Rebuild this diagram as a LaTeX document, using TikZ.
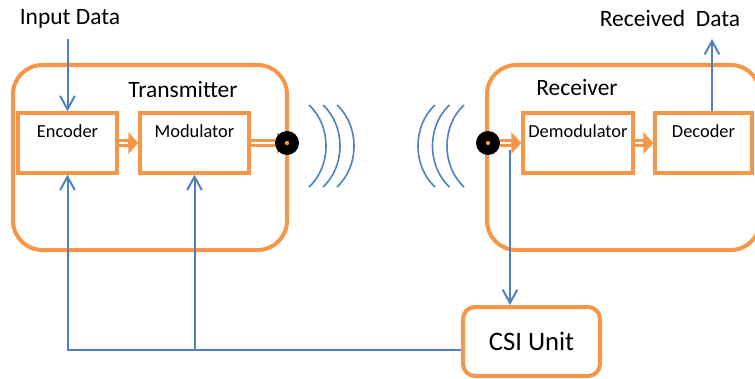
\documentclass[tikz,border=0pt]{standalone}
\usepackage{fontspec}
\setmainfont{Carlito}
\usepackage{tikz}
\usetikzlibrary{arrows.meta,backgrounds}

\definecolor{csiorange}{HTML}{F79646}
\definecolor{csiblue}{HTML}{4F81BD}

\tikzset{
  unitbox/.style={draw=csiorange, line width=3pt, rounded corners=22pt,
    minimum height=138.75pt},
  blk/.style={draw=csiorange, line width=2.5pt, minimum height=45pt, inner sep=0pt},
  blktxt/.style={font=\fontsize{13.8}{16}\selectfont, anchor=base, inner sep=0pt},
  bigtxt/.style={font=\fontsize{17.6}{20}\selectfont, anchor=base, inner sep=0pt},
  flow/.style={csiblue, line width=1.5pt, -{Straight Barb[length=10pt, width=11pt]}},
  fatarr/.style={csiorange, line width=6.5pt, -{Triangle[length=7.5pt, width=16pt]},
    postaction={draw=white, line width=1.9pt, -, shorten >=8pt}},
  antdot/.style={circle, fill=black, inner sep=0pt, minimum size=18pt,
    path picture={\fill[csiorange] (path picture bounding box.center) circle (1.6pt);}},
  wave/.style={csiblue, line width=1.2pt}
}

\begin{document}
\begin{tikzpicture}[x=0.75pt, y=-0.75pt]
    \useasboundingbox (0,0) rectangle (755,378);

    \node[unitbox, minimum width=205.5pt] (tx) at (150,157.5) {};
    \node[unitbox, minimum width=204.75pt] (rx) at (623.5,157.5) {};

    \node[blk, minimum width=74.25pt] (enc) at (67.5,143) {};
    \node[blk, minimum width=81.75pt] (mod) at (194.5,143) {};
    \node[blk, minimum width=82.5pt] (demod) at (578,143) {};
    \node[blk, minimum width=72.75pt] (dec) at (703.5,143) {};

    \node[blktxt] (enclbl) at ([yshift=4.5pt]enc.center) {Encoder};
    \node[blktxt] (modlbl) at ([yshift=4.5pt]mod.center) {Modulator};
    \node[blktxt] (demodlbl) at ([yshift=4.5pt]demod.center) {Demodulator};
    \node[blktxt] (declbl) at ([yshift=4.5pt]dec.center) {Decoder};

    \node[bigtxt] (txlbl) at (183,97) {Transmitter};
    \node[bigtxt] (rxlbl) at (577,95) {Receiver};
    \node[bigtxt] (indata) at (70,25) {Input Data};
    \node[bigtxt] (outdata) at (670,27) {Received\ \ Data};

    \node[draw=csiorange, line width=3pt, rounded corners=9pt, minimum width=102.75pt,
      minimum height=51.75pt, font=\fontsize{20}{24}\selectfont] (csi) at (531.5,341.5) {CSI Unit};

    \node[antdot] (txant) at (287,143) {};
    \node[antdot] (rxant) at (488,143) {};

    \begin{scope}[on background layer]
      \draw[fatarr] (mod.east) -- (txant.center);
    \end{scope}
    \draw[fatarr] (enc.east) -- (mod.west);
    \draw[fatarr] (rxant.east) -- (demod.west);
    \draw[fatarr] (demod.east) -- (dec.west);

    \foreach \d in {0,14,28}
      \draw[wave] (309+\d,105) .. controls (331.7+\d,126) and (331.7+\d,166) .. (309+\d,187);
    \foreach \d in {0,14.5,29}
      \draw[wave] (464-\d,105) .. controls (441.3-\d,126) and (441.3-\d,166) .. (464-\d,187);

    \coordinate (inpt) at (67.5,39);
    \coordinate (outpt) at (712,39);
    \coordinate (fb) at ([yshift=-6pt]csi.west);
    \coordinate (rxtap) at (510,150);

    \draw[flow] (inpt) -- (enc.north);
    \draw[flow] (dec.north -| outpt) -- (outpt);
    \draw[flow] (fb) -| (enc.south);
    \draw[flow] (mod.south |- fb) -- (mod.south);
    \draw[flow] (rxtap) -- (rxtap |- csi.north);
\end{tikzpicture}
\end{document}
